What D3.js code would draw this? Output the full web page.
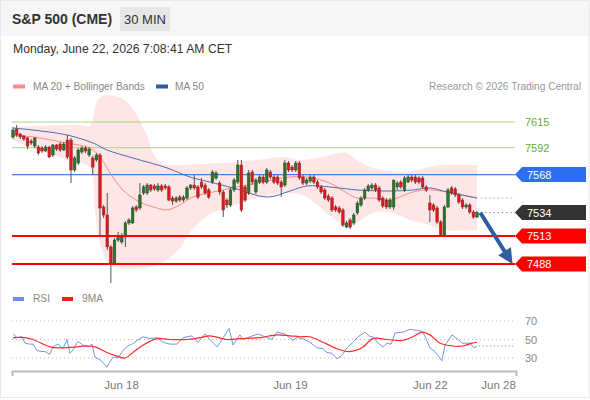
<!DOCTYPE html>
<html><head><meta charset="utf-8">
<script src="https://cdn.jsdelivr.net/npm/d3@7"></script>
<style>body{margin:0;background:#fff;} svg{font-family:"Liberation Sans",Arial,sans-serif;display:block;}</style>
</head><body><svg id="c" width="590" height="400"></svg>
<script>
// ---------- DATA ----------
const opens=[7601.6,7608.7,7604.3,7602.5,7600.7,7598.0,7593.5,7592.6,7591.7,7589.1,
7592.6,7585.5,7594.4,7595.3,7590.0,7598.9,7598.9,7572.1,7578.3,7588.2,
7591.7,7585.5,7582.8,7581.0,7585.5,7539.0,7531.8,7503.2,7488.9,7509.4,
7507.7,7512.1,7524.7,7524.7,7539.0,7538.1,7551.5,7551.5,7558.6,7557.8,
7554.2,7557.8,7557.8,7556.9,7547.0,7544.3,7547.9,7545.2,7547.0,7556.0,
7558.6,7556.9,7561.3,7558.6,7554.2,7561.3,7564.9,7560.4,7552.4,7545.2,
7540.8,7554.2,7561.3,7576.5,7556.9,7551.5,7570.3,7552.4,7561.3,7565.8,
7561.3,7570.3,7565.8,7565.8,7561.3,7558.6,7578.3,7574.7,7572.1,7578.3,
7565.8,7560.4,7562.2,7565.8,7561.3,7556.9,7554.2,7548.8,7547.0,7539.0,
7538.1,7536.3,7521.1,7527.3,7524.7,7533.6,7540.8,7547.0,7554.2,7556.0,
7558.6,7556.0,7547.0,7545.2,7539.0,7539.0,7556.9,7561.3,7554.2,7561.3,
7565.8,7565.8,7564.9,7564.9,7556.9,7542.5,7540.8,7538.1,7525.6,7513.9,
7539.0,7556.0,7555.1,7549.7,7545.2,7539.0,7540.8,7534.5,7530.0];
const closes=[7607.8,7603.4,7601.6,7599.8,7593.5,7596.2,7600.7,7587.3,7589.1,7592.6,
7583.7,7594.4,7590.8,7590.0,7595.3,7583.7,7572.1,7582.8,7590.0,7591.7,
7589.1,7590.8,7574.7,7585.5,7538.1,7531.8,7503.2,7488.9,7509.4,7513.0,
7512.1,7524.7,7527.3,7538.1,7536.3,7549.7,7556.9,7558.6,7554.2,7555.1,
7557.8,7554.2,7556.0,7545.2,7544.3,7547.0,7545.2,7547.9,7556.0,7558.6,
7556.0,7547.9,7556.9,7551.5,7547.9,7570.3,7569.4,7552.4,7536.3,7540.8,
7554.2,7563.1,7576.5,7536.3,7545.2,7569.4,7561.3,7563.1,7565.8,7561.3,
7572.1,7565.8,7561.3,7560.4,7556.9,7578.3,7572.1,7572.1,7578.3,7564.9,
7560.4,7563.1,7565.8,7561.3,7556.9,7552.4,7547.0,7545.2,7536.3,7536.3,
7534.5,7522.9,7524.7,7521.1,7531.8,7542.5,7547.0,7554.2,7557.8,7558.6,
7554.2,7545.2,7539.9,7539.0,7545.2,7563.1,7560.4,7556.9,7564.9,7565.8,
7563.1,7561.3,7561.3,7556.9,7554.2,7536.3,7536.3,7525.6,7513.9,7539.0,
7554.2,7551.5,7549.7,7543.4,7539.0,7540.8,7534.5,7530.0,7534.0];
const highs=[7610.5,7612.3,7605.2,7603.4,7601.6,7599.8,7601.6,7594.4,7593.5,7594.4,
7593.5,7595.3,7595.3,7597.1,7597.1,7603.4,7600.7,7584.6,7591.7,7593.5,
7593.5,7592.6,7584.6,7587.3,7587.3,7540.8,7551.5,7505.0,7511.2,7516.6,
7515.7,7526.4,7529.1,7539.9,7540.8,7560.4,7558.6,7560.4,7559.5,7559.5,
7560.4,7559.5,7559.5,7558.6,7548.8,7548.8,7549.7,7549.7,7557.8,7559.5,
7567.6,7558.6,7564.9,7560.4,7556.0,7572.1,7571.2,7562.2,7554.2,7547.0,
7556.0,7564.9,7581.0,7581.0,7558.6,7572.1,7572.1,7564.9,7567.6,7567.6,
7573.9,7572.1,7567.6,7567.6,7563.1,7581.0,7580.1,7576.5,7580.1,7580.1,
7567.6,7564.9,7567.6,7567.6,7563.1,7558.6,7556.0,7550.6,7548.8,7540.8,
7539.9,7538.1,7526.4,7529.1,7533.6,7544.3,7548.8,7556.0,7559.5,7560.4,
7560.4,7557.8,7548.8,7547.0,7547.0,7563.1,7562.2,7563.1,7566.7,7567.6,
7567.6,7567.6,7566.7,7566.7,7558.6,7549.7,7542.5,7539.9,7527.3,7540.8,
7556.0,7557.8,7556.9,7551.5,7547.0,7542.5,7542.5,7536.3,7535.4];
const lows=[7599.8,7601.6,7599.8,7598.0,7590.8,7594.4,7591.7,7585.5,7587.3,7588.2,
7582.8,7583.7,7589.1,7588.2,7589.1,7581.9,7560.4,7570.3,7576.5,7586.4,
7587.3,7583.7,7567.6,7579.2,7513.9,7529.1,7500.5,7471.0,7487.1,7507.7,
7505.9,7503.2,7522.9,7523.8,7534.5,7536.3,7549.7,7549.7,7552.4,7553.3,
7552.4,7552.4,7554.2,7544.3,7540.8,7542.5,7543.4,7543.4,7545.2,7554.2,
7554.2,7546.1,7555.1,7549.7,7546.1,7559.5,7563.1,7549.7,7530.0,7538.1,
7539.0,7552.4,7559.5,7534.5,7543.4,7549.7,7558.6,7550.6,7559.5,7559.5,
7559.5,7564.0,7559.5,7558.6,7547.9,7556.9,7570.3,7570.3,7570.3,7563.1,
7558.6,7558.6,7560.4,7559.5,7555.1,7550.6,7545.2,7543.4,7534.5,7534.5,
7532.7,7521.1,7520.2,7519.3,7522.9,7531.8,7539.0,7545.2,7552.4,7554.2,
7552.4,7543.4,7538.1,7537.2,7537.2,7536.3,7554.2,7555.1,7552.4,7560.4,
7561.3,7559.5,7559.5,7555.1,7552.4,7525.6,7534.5,7523.8,7513.0,7513.0,
7538.1,7549.7,7547.9,7541.7,7537.2,7537.2,7532.7,7528.2,7529.1];

// Bollinger bands / moving averages (position in bars, value)
const bbUpIdx=[0,5.5,13,18.5,21.2,22,23.4,25.4,28.1,30.9,33.7,35.6,37.2,38.6,40.6,43.3,51.6,57.9,67.3,74.5,79.2,83.9,90.2,92.1,94.9,99.3,104,108.7,117.8,128];
const bbUpVal=[7610.5,7611.4,7612.3,7612.3,7611.4,7616.8,7634.7,7639.2,7638.3,7634.7,7624,7612.3,7601.6,7587.3,7579.2,7576.5,7577.4,7578.3,7581,7583.7,7581,7582.8,7587.3,7587.3,7581,7573.9,7571.2,7570.3,7576.5,7576.5];
const bbLoIdx=[0,5.5,14.9,21.2,22.6,24,26.8,29.5,35,37.8,42.5,46.1,48.8,51.6,54.9,59.9,67.3,76.4,81.1,85.5,90.2,92.1,94.9,99.3,104,109.5,115,118.6,128];
const bbLoVal=[7598.9,7591.7,7581,7573.9,7536.3,7506.8,7487,7484,7484,7485,7492,7502.3,7516.6,7525.6,7533.6,7539,7547,7551.5,7547.9,7536.3,7524.7,7520.2,7524.7,7533.6,7534.5,7527.3,7522.9,7518.4,7518.4];
const ma20Idx=[0,5.5,14.9,21.2,24,26.8,30.3,35,39.7,42.5,46,49.7,57.9,67.3,76.4,81.1,87.4,92.1,94.9,99.3,104,110.3,115,119.7,125.2,128];
const ma20Val=[7603.4,7601.6,7596.2,7591.7,7583.7,7569.4,7554.2,7543.4,7538.1,7536.3,7540.8,7547.9,7554.2,7560.4,7565.8,7565.8,7560.4,7551.5,7547,7547,7545.2,7552.4,7554.2,7552.4,7548.8,7547];
const ma50Idx=[0,5.5,14.9,22.1,25.9,33.1,42.5,48.8,54.3,60.7,70.3,76.4,81.1,87.4,94.9,104,110.3,115,119.7,128];
const ma50Val=[7609.6,7607.8,7603.4,7596.2,7590,7582.8,7573.9,7565.8,7561.3,7556,7547.9,7553.3,7557.8,7556.9,7554.2,7553.3,7554.2,7556,7552.4,7547];

// RSI panel
const rsiIdx=[0,1.1,2.5,3.3,4.7,5.5,6.6,8,8.8,10.2,11,12.4,13.8,14.9,15.7,16.6,17.9,19.3,20.7,21.8,22.6,24,25.1,25.9,26.8,27.6,29,30.3,31.7,32.8,34.2,35.9,37.8,39.7,41.4,43.3,45.2,46.9,49.4,51,53,54.3,56.3,57.7,59.6,60.7,62.6,63.4,65.4,67.6,70.1,71.4,72.8,75,77.2,78.3,80,81.9,83.9,85.5,86.6,88,89.4,90.8,92.1,93.8,95.2,97.1,98.5,99.3,100.7,102.1,103.2,104.3,105.4,107.6,109.5,111.4,112.8,113.7,115,116.4,118.3,119.2,121.1,122.5,123.9,126.1,127.2,128];
const rsiVal=[56,52,53,46,45,45,38,37,37,34,42,45,40,50,35,39,48,44,42,45,31,28,24,20,26,31,30,38,43,45,49,53,51,52,47,45,45,52,54,47,56,50,42,50,62,44,55,50,53,56,52,50,58,56,49,52,51,47,41,40,36,35,29,33,41,47,53,58,53,53,46,42,46,45,57,58,61,60,59,53,41,37,27,44,55,51,46,46,41,43];
const maRsiIdx=[0,3.3,5.5,10.2,13,17.7,20.4,22.6,25.9,28.7,30.9,33.1,35.9,39.7,43.3,48,51.6,54.3,59,62.6,68.1,72.8,76.4,79.2,81.9,85.5,89.4,92.1,94.3,96.6,99.3,103.2,107.6,110.3,112.8,115,117.8,121.4,124.1,126.6,128];
const maRsiVal=[52,52,50,42,41,42,43,42,36,32,30,36,44,51,50,50,52,54,50,51,52,55,54,53,53,47,40,37,38,42,51,50,49,53,58,55,46,43,43,46,47];
const rsiLevels=[70,50,30];

// Levels
const resistGreen=[7615,7592];
const pivot=7568;
const lastPrice=7534;
const supports=[7513,7488];
const target=7488;

// Time axis
const tickIdx=[29.8,76.4,115,133.8];
const tickLabels=["Jun 18","Jun 19","Jun 22","Jun 28"];

// ---------- DRAW ----------
const svg=d3.select('#c');
const x=d3.scaleLinear().domain([-0.28,138.76]).range([12,516]);
const y=d3.scaleLinear().domain([7488,7615]).range([264,122]);
const yr=d3.scaleLinear().domain([30,70]).range([358,321]);
const X0=12,X1=515;

// frame + header
svg.append('rect').attr('x',0).attr('y',0).attr('width',590).attr('height',36).attr('fill','#f6f6f6');
svg.append('rect').attr('x',0.5).attr('y',0.5).attr('width',588.5).attr('height',397).attr('fill','none').attr('stroke','#e8e8e8');
svg.append('text').attr('x',12).attr('y',24).attr('font-size',14).attr('font-weight','bold').attr('fill','#333').text('S&P 500 (CME)');
svg.append('rect').attr('x',120).attr('y',7).attr('width',50).attr('height',24).attr('fill','#e6e6e6');
svg.append('text').attr('x',145).attr('y',24).attr('text-anchor','middle').attr('font-size',13).attr('fill','#333').text('30 MIN');
svg.append('text').attr('x',13).attr('y',53).attr('font-size',12.2).attr('fill','#333').text('Monday, June 22, 2026 7:08:41 AM CET');

// legend
svg.append('rect').attr('x',13).attr('y',84.5).attr('width',12).attr('height',4).attr('fill','#ff8a8a');
svg.append('text').attr('x',33).attr('y',90).attr('font-size',10.2).attr('fill','#888').text('MA 20 + Bollinger Bands');
svg.append('rect').attr('x',156).attr('y',84.5).attr('width',12).attr('height',4).attr('fill','#2f5d9e');
svg.append('text').attr('x',175).attr('y',90).attr('font-size',10.2).attr('fill','#888').text('MA 50');
svg.append('text').attr('x',581).attr('y',90).attr('text-anchor','end').attr('font-size',10.2).attr('fill','#999').text('Research © 2026 Trading Central');

// bollinger band fill
const up=bbUpIdx.map((d,i)=>[x(d),y(bbUpVal[i])]);
const lo=bbLoIdx.map((d,i)=>[x(d),y(bbLoVal[i])]).reverse();
const lg=d3.line().curve(d3.curveCatmullRom);
const pUp=lg(up), pLo=lg(lo);
svg.append('path').attr('d',pUp+'L'+pLo.slice(1)+'Z').attr('fill','#ffe3e3').attr('opacity',0.9);

// level lines
resistGreen.forEach(v=>{
  svg.append('line').attr('x1',X0).attr('x2',X1).attr('y1',y(v)).attr('y2',y(v)).attr('stroke','#a6d77f').attr('stroke-width',1);
  svg.append('text').attr('x',525).attr('y',y(v)+4).attr('font-size',11).attr('fill','#6aaa34').text(v);
});
svg.append('line').attr('x1',X0).attr('x2',X1).attr('y1',y(pivot)).attr('y2',y(pivot)).attr('stroke','#3f7fe6').attr('stroke-width',1.3);

// MA lines
const ml=d3.line().curve(d3.curveCatmullRom);
svg.append('path').attr('d',ml(ma20Idx.map((d,i)=>[x(d),y(ma20Val[i])]))).attr('fill','none').attr('stroke','#ff8a8a').attr('stroke-width',1);
svg.append('path').attr('d',ml(ma50Idx.map((d,i)=>[x(d),y(ma50Val[i])]))).attr('fill','none').attr('stroke','#4a6db0').attr('stroke-width',1);

// candles
const bw=2.6;
const cg=svg.append('g');
closes.forEach((c,i)=>{
  const o=opens[i], up=c>=o;
  const cx=x(i);
  cg.append('line').attr('x1',cx).attr('x2',cx).attr('y1',y(highs[i])).attr('y2',y(lows[i])).attr('stroke','#555').attr('stroke-width',1);
  const t=y(Math.max(o,c)), b=y(Math.min(o,c));
  cg.append('rect').attr('x',cx-bw/2).attr('y',t).attr('width',bw).attr('height',Math.max(1,b-t))
    .attr('fill',up?'#2a752d':'#e3161b').attr('stroke',up?'#264a26':'#8a2222').attr('stroke-width',0.5);
});

// support lines
supports.forEach(v=>{
  svg.append('line').attr('x1',X0).attr('x2',X1).attr('y1',y(v)).attr('y2',y(v)).attr('stroke','#ff0000').attr('stroke-width',2);
});

// dotted extensions
const lastI=closes.length-1;
svg.append('line').attr('x1',x(lastI)+4).attr('x2',X1).attr('y1',y(ma50Val[ma50Val.length-1])).attr('y2',y(ma50Val[ma50Val.length-1])).attr('stroke','#999').attr('stroke-dasharray','1.2,3');
svg.append('line').attr('x1',x(lastI)+4).attr('x2',X1).attr('y1',y(lastPrice)).attr('y2',y(lastPrice)).attr('stroke','#777').attr('stroke-dasharray','1.2,3');

// tags
function tag(v,fill){
  const yc=y(v);
  svg.append('path').attr('d',`M515,${yc}L522,${yc-7.5}L586,${yc-7.5}L586,${yc+7.5}L522,${yc+7.5}Z`).attr('fill',fill);
  svg.append('text').attr('x',527).attr('y',yc+4).attr('font-size',11).attr('fill','#fff').text(v);
}
tag(pivot,'#2d6ff0');
tag(lastPrice,'#333');
supports.forEach(v=>tag(v,'#ff0000'));

// arrow
const ax0=x(lastI+0.9), ay0=y(lastPrice), ax1=x(137.8), ay1=y(target);
const dx=ax1-ax0, dy=ay1-ay0, L=Math.hypot(dx,dy), ux=dx/L, uy=dy/L;
const hl=15, hw=7.5;
const bx=ax1-ux*hl, by=ay1-uy*hl;
svg.append('line').attr('x1',ax0).attr('y1',ay0).attr('x2',bx+ux*2).attr('y2',by+uy*2).attr('stroke','#2f5da0').attr('stroke-width',4);
svg.append('path').attr('d',`M${ax1},${ay1}L${bx-uy*hw},${by+ux*hw}L${bx+uy*hw},${by-ux*hw}Z`).attr('fill','#2f5da0');

// RSI legend
svg.append('rect').attr('x',13).attr('y',297).attr('width',11).attr('height',4).attr('fill','#6b8fe6');
svg.append('text').attr('x',33).attr('y',302).attr('font-size',10.2).attr('fill','#888').text('RSI');
svg.append('rect').attr('x',62).attr('y',297).attr('width',11).attr('height',4).attr('fill','#ff1a1a');
svg.append('text').attr('x',82).attr('y',302).attr('font-size',10.2).attr('fill','#888').text('9MA');

rsiLevels.forEach(v=>{
  svg.append('line').attr('x1',X0).attr('x2',X1).attr('y1',yr(v)).attr('y2',yr(v)).attr('stroke','#bbb').attr('stroke-dasharray','1,3');
  svg.append('text').attr('x',525).attr('y',yr(v)+4).attr('font-size',11).attr('fill','#888').text(v);
});
const rl=d3.line();
svg.append('path').attr('d',rl(rsiIdx.map((d,i)=>[x(d),yr(rsiVal[i])]))).attr('fill','none').attr('stroke','#7596e8').attr('stroke-width',1);
svg.append('path').attr('d',d3.line().curve(d3.curveCatmullRom)(maRsiIdx.map((d,i)=>[x(d),yr(maRsiVal[i])]))).attr('fill','none').attr('stroke','#ff2a2a').attr('stroke-width',1.2);
svg.append('line').attr('x1',x(rsiIdx[rsiIdx.length-1])+2).attr('x2',X1).attr('y1',yr(rsiVal[rsiVal.length-1])).attr('y2',yr(rsiVal[rsiVal.length-1])).attr('stroke','#7596e8').attr('stroke-dasharray','1.2,2.5');

// x axis
const axis=d3.axisBottom(x).tickValues(tickIdx).tickFormat((d,i)=>tickLabels[i]).tickSizeInner(0).tickSizeOuter(5).tickPadding(10);
const ag=svg.append('g').attr('transform','translate(0,371)').call(axis);
ag.select('.domain').attr('stroke','#bbb').attr('stroke-width',2);
ag.selectAll('text').attr('font-size',11.5).attr('fill','#777').attr('font-family','"Liberation Sans",Arial,sans-serif');
</script>
</body></html>
